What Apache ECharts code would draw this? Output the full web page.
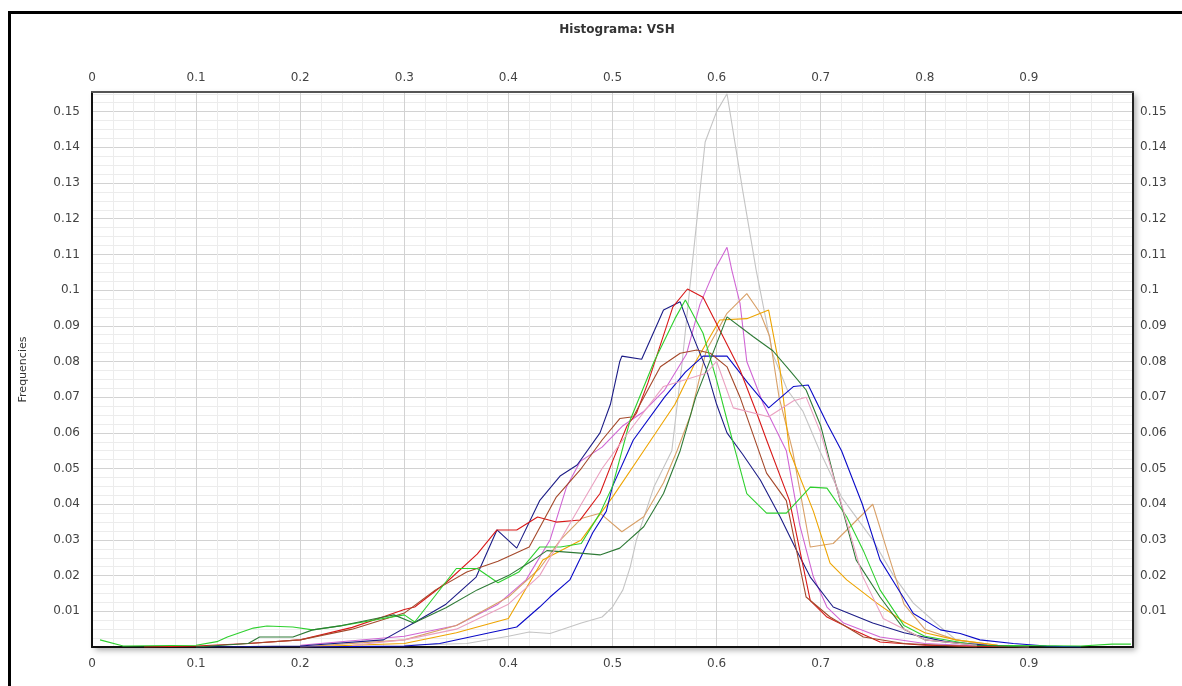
<!DOCTYPE html>
<html>
<head>
<meta charset="utf-8">
<script src="https://cdn.jsdelivr.net/npm/echarts@6/dist/echarts.min.js"></script>
<style>
html,body{margin:0;padding:0;background:#fff;}
#chart{width:1182px;height:686px;}
</style>
</head>
<body>
<div id="chart"></div>
<script>
const titleText = 'Histograma: VSH';
const yAxisName = 'Frequencies';

const seriesNames = ['gray','orchid','tan','gold','navy','blue','red','brown','green','darkgreen','pink'];
const seriesColors = ['#c4c4c4','#d066d4','#d8a068','#eea400','#1c1c86','#0a0ac8','#d81818','#a4482a','#2ed02e','#2e7a36','#eaa0c0'];

const gray = [[0.30,0.0005],[0.36,0.001],[0.40,0.003],[0.42,0.0042],[0.44,0.0038],[0.47,0.0067],[0.49,0.0084],[0.50,0.0112],[0.51,0.016],[0.517,0.0224],[0.523,0.030],[0.54,0.045],[0.557,0.055],[0.567,0.080],[0.576,0.1056],[0.589,0.1415],[0.60,0.15],[0.61,0.155],[0.625,0.128],[0.638,0.1056],[0.654,0.082],[0.668,0.072],[0.683,0.066],[0.699,0.055],[0.72,0.042],[0.75,0.030],[0.77,0.020],[0.789,0.0123],[0.815,0.0056],[0.83,0.002],[0.86,0.0005],[0.9,0]];
const orchid = [[0.2,0.0005],[0.3,0.003],[0.35,0.006],[0.39,0.012],[0.417,0.0188],[0.44,0.03],[0.456,0.045],[0.469,0.052],[0.49,0.056],[0.51,0.062],[0.53,0.066],[0.55,0.072],[0.571,0.082],[0.584,0.096],[0.598,0.1056],[0.61,0.112],[0.6146,0.1056],[0.6225,0.0963],[0.629,0.080],[0.645,0.068],[0.667,0.055],[0.68,0.034],[0.693,0.0196],[0.706,0.0112],[0.722,0.0067],[0.757,0.0028],[0.8,0.001],[0.85,0.0003]];
const tan = [[0.2,0],[0.3,0.002],[0.35,0.006],[0.40,0.014],[0.43,0.022],[0.45,0.030],[0.47,0.036],[0.488,0.0375],[0.509,0.0323],[0.53,0.0365],[0.549,0.046],[0.562,0.055],[0.575,0.065],[0.59,0.083],[0.61,0.0935],[0.629,0.099],[0.642,0.0935],[0.651,0.087],[0.66,0.07],[0.673,0.055],[0.69,0.028],[0.712,0.029],[0.75,0.040],[0.767,0.024],[0.78,0.012],[0.80,0.005],[0.83,0.002],[0.87,0.0005]];
const gold = [[0.2,0],[0.3,0.001],[0.35,0.004],[0.40,0.008],[0.433,0.0244],[0.47,0.03],[0.50,0.042],[0.53,0.055],[0.56,0.068],[0.58,0.08],[0.603,0.0916],[0.629,0.092],[0.65,0.0944],[0.661,0.0776],[0.67,0.055],[0.693,0.038],[0.709,0.0235],[0.725,0.0188],[0.754,0.0123],[0.78,0.007],[0.80,0.004],[0.83,0.002],[0.87,0.0005]];
const navy = [[0.1,0],[0.2,0.0003],[0.28,0.002],[0.309,0.0067],[0.34,0.012],[0.369,0.0196],[0.389,0.0328],[0.408,0.0277],[0.43,0.041],[0.45,0.048],[0.466,0.051],[0.488,0.060],[0.498,0.068],[0.507,0.080],[0.509,0.0815],[0.528,0.0806],[0.549,0.0944],[0.565,0.0967],[0.576,0.088],[0.59,0.078],[0.60,0.068],[0.61,0.060],[0.625,0.054],[0.642,0.0468],[0.661,0.0365],[0.677,0.027],[0.69,0.0196],[0.712,0.0112],[0.75,0.0067],[0.78,0.004],[0.82,0.0015],[0.86,0.0005],[0.9,0]];
const blue = [[0.2,0],[0.3,0.0003],[0.334,0.001],[0.382,0.004],[0.408,0.0056],[0.43,0.0112],[0.44,0.014],[0.459,0.0188],[0.481,0.032],[0.494,0.038],[0.50,0.045],[0.52,0.058],[0.55,0.07],[0.57,0.077],[0.587,0.0815],[0.61,0.0815],[0.63,0.074],[0.65,0.067],[0.674,0.073],[0.688,0.0734],[0.706,0.0627],[0.72,0.055],[0.74,0.04],[0.757,0.0244],[0.773,0.0169],[0.789,0.0094],[0.815,0.0048],[0.834,0.0038],[0.853,0.002],[0.885,0.001],[0.917,0.0003],[0.95,0]];
const red = [[0.05,0],[0.1,0.0003],[0.15,0.001],[0.2,0.002],[0.25,0.0055],[0.28,0.0085],[0.30,0.0105],[0.31,0.0112],[0.34,0.018],[0.37,0.026],[0.389,0.0328],[0.408,0.0328],[0.428,0.0364],[0.446,0.035],[0.469,0.0356],[0.488,0.043],[0.50,0.052],[0.514,0.062],[0.523,0.0655],[0.534,0.074],[0.558,0.0953],[0.572,0.1003],[0.587,0.098],[0.603,0.0888],[0.6225,0.0776],[0.638,0.066],[0.648,0.058],[0.67,0.041],[0.69,0.013],[0.706,0.0084],[0.731,0.0048],[0.757,0.0014],[0.8,0.0005],[0.85,0.0002],[0.9,0]];
const brown = [[0.15,0.001],[0.2,0.002],[0.25,0.005],[0.3,0.0095],[0.33,0.016],[0.36,0.021],[0.39,0.024],[0.42,0.028],[0.446,0.042],[0.47,0.05],[0.49,0.058],[0.507,0.064],[0.52,0.0645],[0.546,0.0785],[0.565,0.0823],[0.581,0.0832],[0.594,0.0823],[0.61,0.0785],[0.6225,0.070],[0.648,0.0487],[0.667,0.041],[0.686,0.014],[0.709,0.0084],[0.741,0.0028],[0.78,0.001],[0.85,0]];
const green = [[0.0077,0.002],[0.03,0.0003],[0.1,0.0005],[0.12,0.0015],[0.13,0.0028],[0.155,0.0053],[0.168,0.0059],[0.193,0.0056],[0.212,0.0048],[0.24,0.006],[0.27,0.0075],[0.30,0.009],[0.31,0.007],[0.35,0.022],[0.37,0.022],[0.39,0.018],[0.41,0.021],[0.43,0.028],[0.45,0.028],[0.47,0.029],[0.488,0.0375],[0.50,0.045],[0.517,0.0636],[0.54,0.08],[0.56,0.092],[0.57,0.0972],[0.587,0.0879],[0.60,0.0748],[0.61,0.0636],[0.619,0.0538],[0.629,0.043],[0.648,0.0375],[0.667,0.0375],[0.69,0.0448],[0.706,0.0445],[0.725,0.0365],[0.741,0.027],[0.757,0.016],[0.78,0.006],[0.8,0.003],[0.85,0.0005],[0.95,0.0003],[0.98,0.0008],[0.998,0.0008]];
const darkgreen = [[0.1,0],[0.15,0.001],[0.161,0.0028],[0.193,0.0028],[0.212,0.0048],[0.24,0.006],[0.273,0.008],[0.29,0.009],[0.309,0.0067],[0.34,0.011],[0.37,0.016],[0.40,0.02],[0.424,0.0244],[0.437,0.027],[0.469,0.0263],[0.488,0.0258],[0.507,0.0277],[0.53,0.0337],[0.549,0.043],[0.565,0.055],[0.58,0.07],[0.60,0.085],[0.61,0.0925],[0.635,0.087],[0.654,0.083],[0.67,0.0776],[0.686,0.072],[0.70,0.062],[0.715,0.045],[0.734,0.0244],[0.757,0.014],[0.78,0.005],[0.8,0.002],[0.85,0.0005],[0.9,0]];
const pink = [[0.25,0.0005],[0.3,0.002],[0.35,0.005],[0.4,0.012],[0.43,0.02],[0.46,0.035],[0.49,0.05],[0.52,0.062],[0.549,0.073],[0.59,0.0767],[0.6,0.08],[0.616,0.067],[0.65,0.0645],[0.674,0.069],[0.686,0.070],[0.70,0.06],[0.72,0.04],[0.74,0.02],[0.76,0.008],[0.8,0.002],[0.85,0.0005]];

const seriesData = [gray, orchid, tan, gold, navy, blue, red, brown, green, darkgreen, pink];

const X_MIN = 0, X_MAX = 1, X_STEP = 0.1;
const Y_MIN = 0, Y_MAX = 0.1555, Y_STEP = 0.01;

const FONT = 'DejaVu Sans';
function fmt(v, step, max) {
  const k = v / step;
  if (Math.abs(k - Math.round(k)) > 1e-6) return '';
  if (Math.abs(v - max) < 1e-9 && max === 1) return '';
  return String(parseFloat(v.toFixed(2)));
}
function fmtY(v) {
  if (v === 0) return '';
  return fmt(v, Y_STEP, Y_MAX);
}
function fmtX(v) { return fmt(v, X_STEP, X_MAX); }

const chart = echarts.init(document.getElementById('chart'));
const gridLeft = 92, gridTop = 92, gridRight = 49, gridBottom = 39;

const option = {
  animation: false,
  backgroundColor: '#ffffff',
  title: {
    text: titleText, left: 612, top: 19, textAlign: 'center',
    textStyle: {fontFamily: FONT, fontSize: 12, fontWeight: 'bold', color: '#333'}
  },
  graphic: [{
    type: 'rect', left: 7, top: 10, z: 100, silent: true,
    shape: {width: 1200, height: 700},
    style: {fill: 'none', stroke: '#000', lineWidth: 3}
  }],
  grid: {
    left: gridLeft, top: gridTop, right: gridRight, bottom: gridBottom,
    show: true, backgroundColor: '#fff', borderWidth: 0,
    shadowColor: 'rgba(0,0,0,0.35)', shadowBlur: 6, shadowOffsetX: 3, shadowOffsetY: 3
  },
  xAxis: [{
    type: 'value', position: 'bottom', min: X_MIN, max: X_MAX, interval: X_STEP,
    axisLine: {show: true, onZero: false, lineStyle: {color: '#111', width: 2}},
    axisTick: {show: false},
    axisLabel: {formatter: fmtX, fontFamily: FONT, fontSize: 12, color: '#444', margin: 11},
    splitLine: {show: true, lineStyle: {color: '#d2d2d2', width: 1}},
    minorTick: {show: false, splitNumber: 5},
    minorSplitLine: {show: true, lineStyle: {color: '#ececec', width: 1}}
  }, {
    type: 'value', position: 'top', min: X_MIN, max: X_MAX, interval: X_STEP,
    axisLine: {show: true, onZero: false, lineStyle: {color: '#555', width: 2}},
    axisTick: {show: false},
    axisLabel: {formatter: fmtX, fontFamily: FONT, fontSize: 12, color: '#444', margin: 8},
    splitLine: {show: false}
  }],
  yAxis: [{
    type: 'value', position: 'left', min: Y_MIN, max: Y_MAX, interval: Y_STEP,
    name: yAxisName, nameLocation: 'middle', nameGap: 63,
    nameTextStyle: {fontFamily: FONT, fontSize: 11, color: '#333'},
    axisLine: {show: true, onZero: false, lineStyle: {color: '#111', width: 2}},
    axisTick: {show: false},
    axisLabel: {formatter: fmtY, fontFamily: FONT, fontSize: 12, color: '#444', margin: 12},
    splitLine: {show: true, lineStyle: {color: '#d2d2d2', width: 1}},
    minorTick: {show: false, splitNumber: 4},
    minorSplitLine: {show: true, lineStyle: {color: '#ececec', width: 1}}
  }, {
    type: 'value', position: 'right', min: Y_MIN, max: Y_MAX, interval: Y_STEP,
    axisLine: {show: true, onZero: false, lineStyle: {color: '#222', width: 2}},
    axisTick: {show: false},
    axisLabel: {formatter: fmtY, fontFamily: FONT, fontSize: 12, color: '#444', margin: 7},
    splitLine: {show: false}
  }],
  series: seriesData.map((d, i) => ({
    name: seriesNames[i], type: 'line', data: d,
    xAxisIndex: 0, yAxisIndex: 0,
    showSymbol: false, symbol: 'none',
    lineStyle: {color: seriesColors[i], width: 1.1},
    itemStyle: {color: seriesColors[i]},
    z: 3
  }))
};
chart.setOption(option);
</script>
</body>
</html>
